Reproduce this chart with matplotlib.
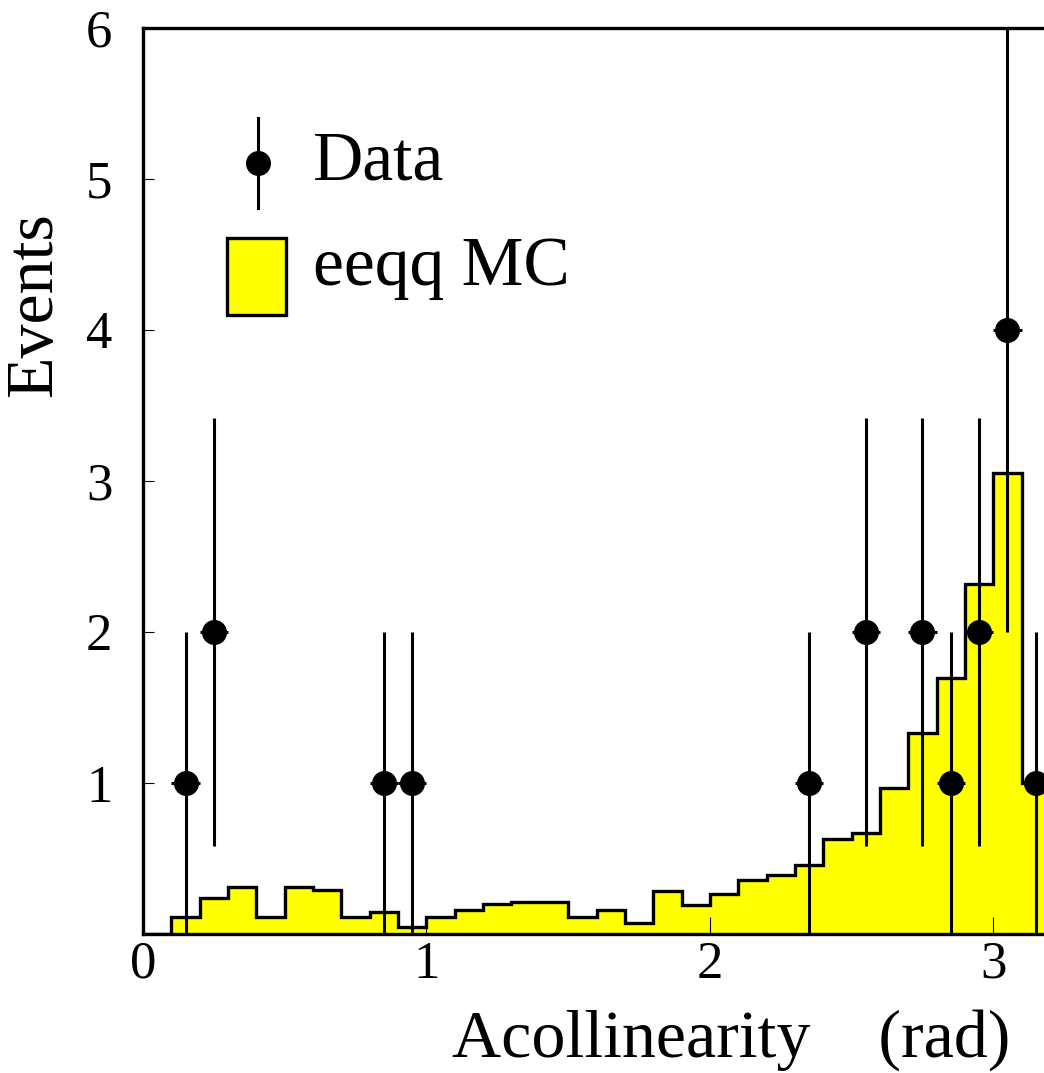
import numpy as np
import matplotlib
matplotlib.use("Agg")
import matplotlib.pyplot as plt
from matplotlib.lines import Line2D
from matplotlib.patches import Rectangle

plt.rcParams["font.family"] = ["Liberation Serif", "DejaVu Serif"]

# eeqq MC histogram, 0.1 rad bins from 0 to 3.2
bin_edges = np.round(np.arange(0, 3.21, 0.1), 2)
mc_events = [0.0, 0.115, 0.24, 0.31, 0.115, 0.31, 0.29, 0.115, 0.145, 0.044,
             0.115, 0.16, 0.197, 0.214, 0.214, 0.115, 0.16, 0.07, 0.287, 0.19,
             0.263, 0.36, 0.39, 0.46, 0.63, 0.67, 0.965, 1.33, 1.695, 2.32,
             3.05, 1.0]

# selected data events (bin centres)
data_x = [0.15, 0.25, 0.85, 0.95, 2.35, 2.55, 2.75, 2.85, 2.95, 3.05, 3.15]
data_n = [1, 2, 1, 1, 1, 2, 2, 1, 2, 4, 1]

W, H = 1044, 1073
fig = plt.figure(figsize=(W / 100, H / 100), dpi=100)
ax = fig.add_axes([143 / W, 139 / H, 907 / W, 906 / H])

ax.stairs(mc_events, bin_edges, fill=True, facecolor="#ffff00", edgecolor="none", zorder=1)
ax.stairs(mc_events, bin_edges, fill=False, color="black", linewidth=2.4, baseline=0, zorder=2)

n = np.array(data_n, dtype=float)
ax.errorbar(data_x, n, yerr=np.sqrt(n), xerr=0.05, fmt="o", color="black",
            markersize=17, elinewidth=2.2, capsize=0, zorder=3)

ax.set_xlim(0, 3.2)
ax.set_ylim(0, 6)
ax.set_xticks([0, 1, 2, 3])
ax.set_yticks([1, 2, 3, 4, 5, 6])
ax.tick_params(axis="x", direction="in", length=12, width=0.8, labelsize=38, pad=5)
ax.tick_params(axis="y", direction="in", length=8, width=0.8, labelsize=38, pad=22)
for sp in ax.spines.values():
    sp.set_linewidth(2.4)

# axis titles
fig.text(731 / W, 1 - 1057 / H, "Acollinearity    (rad)", fontsize=49,
         ha="center", va="baseline")
fig.text(35 / W, 1 - 305 / H, "Events", fontsize=49, rotation=90,
         ha="center", va="center")

# legend
def fx(x):
    return x / W

def fy(y):
    return 1 - y / H

fig.add_artist(Line2D([fx(258), fx(258)], [fy(118), fy(208)], color="black", linewidth=2.2))
fig.add_artist(Line2D([fx(258)], [fy(163)], marker="o", markersize=17, color="black"))
fig.text(fx(313), fy(180), "Data", fontsize=50, va="baseline")
fig.add_artist(Rectangle((fx(227), fy(315)), fx(59), 77 / H, facecolor="#ffff00",
                         edgecolor="black", linewidth=2.4))
fig.text(fx(313), fy(285), "eeqq MC", fontsize=50, va="baseline")

fig.savefig("out.png", dpi=100)
